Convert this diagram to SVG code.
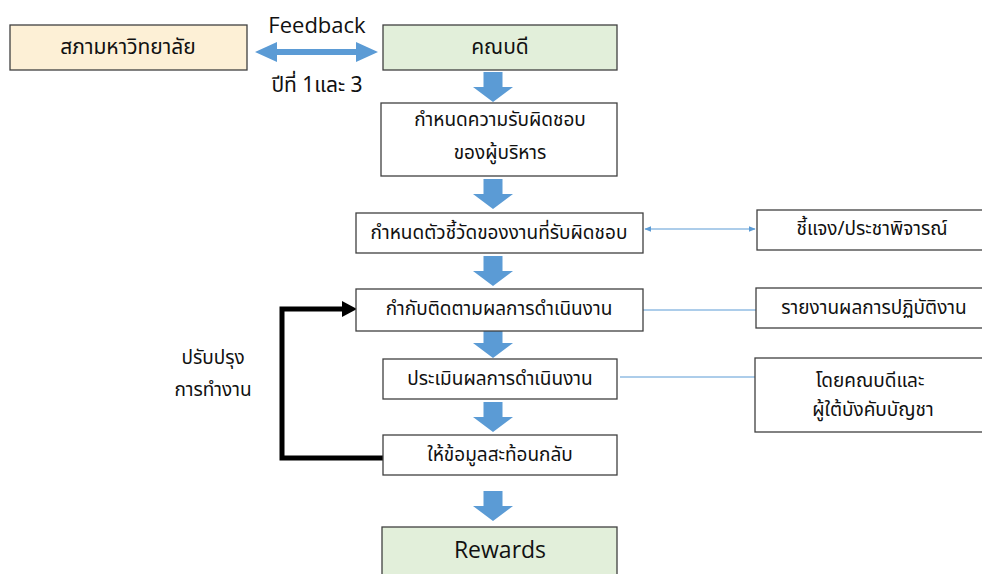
<svg xmlns="http://www.w3.org/2000/svg" width="982" height="574" viewBox="0 0 982 574">
  <style>
    .box { fill: #ffffff; stroke: #404040; stroke-width: 1.3; }
    .peach { fill: #fdf0d6; }
    .green { fill: #e2efda; }
    .t { font-family: "Noto Sans Thai", "Noto Sans", "DejaVu Sans", sans-serif; font-size: 19px; fill: #111; text-anchor: middle; dominant-baseline: central; }
    .tb { font-size: 21px; }
    .lat { font-family: "Open Sans", "Noto Sans", sans-serif; font-size: 22px; fill: #111; text-anchor: middle; }
    .down { fill: #5b9bd5; }
    .thin { stroke: #5b9bd5; stroke-width: 1; fill: none; }
    .loop { stroke: #000; stroke-width: 5; fill: none; }
  </style>
  <defs>
    <marker id="tip" viewBox="0 0 10 10" refX="9" refY="5" markerWidth="7" markerHeight="7" orient="auto-start-reverse">
      <path d="M0,1 L10,5 L0,9 Z" fill="#5b9bd5"/>
    </marker>
    <!-- block arrow pointing down, 30 tall, origin at top centre -->
    <path id="downArrow" d="M-9.5,0 H9.5 V15 H20 L0,30 L-20,15 H-9.5 Z"/>
  </defs>

  <rect width="982" height="574" fill="#ffffff"/>

  <!-- connectors -->
  <g id="connectors">
    <!-- feedback double arrow -->
    <path class="down" d="M255,52 L277,42 V49 H356 V42 L378,52 L356,62 V55 H277 V62 Z"/>
    <use href="#downArrow" class="down" x="493" y="72"/>
    <use href="#downArrow" class="down" x="493" y="179"/>
    <use href="#downArrow" class="down" x="493" y="256"/>
    <use href="#downArrow" class="down" x="493" y="328"/>
    <use href="#downArrow" class="down" x="493" y="402"/>
    <use href="#downArrow" class="down" x="493" y="491"/>
    <!-- side links -->
    <line class="thin" x1="645" y1="229" x2="755" y2="229" marker-start="url(#tip)" marker-end="url(#tip)"/>
    <line class="thin" x1="643" y1="310" x2="756" y2="310"/>
    <line class="thin" x1="620" y1="377" x2="755" y2="377"/>
    <!-- improvement loop -->
    <path class="loop" d="M383,458 H282 V309 H344"/>
    <polygon points="342,301 357,309 342,317" fill="#000"/>
  </g>

  <!-- labels on the feedback link -->
  <text class="lat" x="317" y="33">Feedback</text>
  <text class="t" x="317" y="85" style="font-size:21px">ปีที่ 1และ 3</text>

  <g id="university">
    <rect class="box peach" x="10" y="25" width="237" height="45"/>
    <text class="t tb" x="128" y="47">สภามหาวิทยาลัย</text>
  </g>

  <g id="dean">
    <rect class="box green" x="383" y="25" width="234" height="45"/>
    <text class="t tb" x="500" y="47">คณบดี</text>
  </g>

  <g id="responsibility">
    <rect class="box" x="381" y="103" width="236" height="73"/>
    <text class="t" x="500" y="120">กำหนดความรับผิดชอบ</text>
    <text class="t" x="500" y="153">ของผู้บริหาร</text>
  </g>

  <g id="indicators">
    <rect class="box" x="356" y="213" width="287" height="40"/>
    <text class="t" x="499" y="233">กำหนดตัวชี้วัดของงานที่รับผิดชอบ</text>
  </g>

  <g id="monitor">
    <rect class="box" x="356" y="289" width="287" height="42"/>
    <text class="t" x="499" y="309">กำกับติดตามผลการดำเนินงาน</text>
  </g>

  <g id="evaluate">
    <rect class="box" x="383" y="359" width="234" height="40"/>
    <text class="t" x="500" y="379">ประเมินผลการดำเนินงาน</text>
  </g>

  <g id="feedback">
    <rect class="box" x="383" y="435" width="234" height="40"/>
    <text class="t" x="500" y="455">ให้ข้อมูลสะท้อนกลับ</text>
  </g>

  <g id="rewards">
    <rect class="box green" x="382" y="527" width="235" height="60"/>
    <text class="lat" x="500" y="558" style="font-size:23px">Rewards</text>
  </g>

  <g id="hearing">
    <rect class="box" x="757" y="210" width="240" height="40"/>
    <text class="t" x="872" y="229">ชี้แจง/ประชาพิจารณ์</text>
  </g>

  <g id="report">
    <rect class="box" x="756" y="288" width="240" height="40"/>
    <text class="t" x="874" y="308">รายงานผลการปฏิบัติงาน</text>
  </g>

  <g id="assessors">
    <rect class="box" x="755" y="358" width="240" height="74"/>
    <text class="t" x="870" y="381">โดยคณบดีและ</text>
    <text class="t" x="873" y="410">ผู้ใต้บังคับบัญชา</text>
  </g>

  <g id="improve">
    <text class="t" x="213" y="358">ปรับปรุง</text>
    <text class="t" x="213" y="390">การทำงาน</text>
  </g>
</svg>
